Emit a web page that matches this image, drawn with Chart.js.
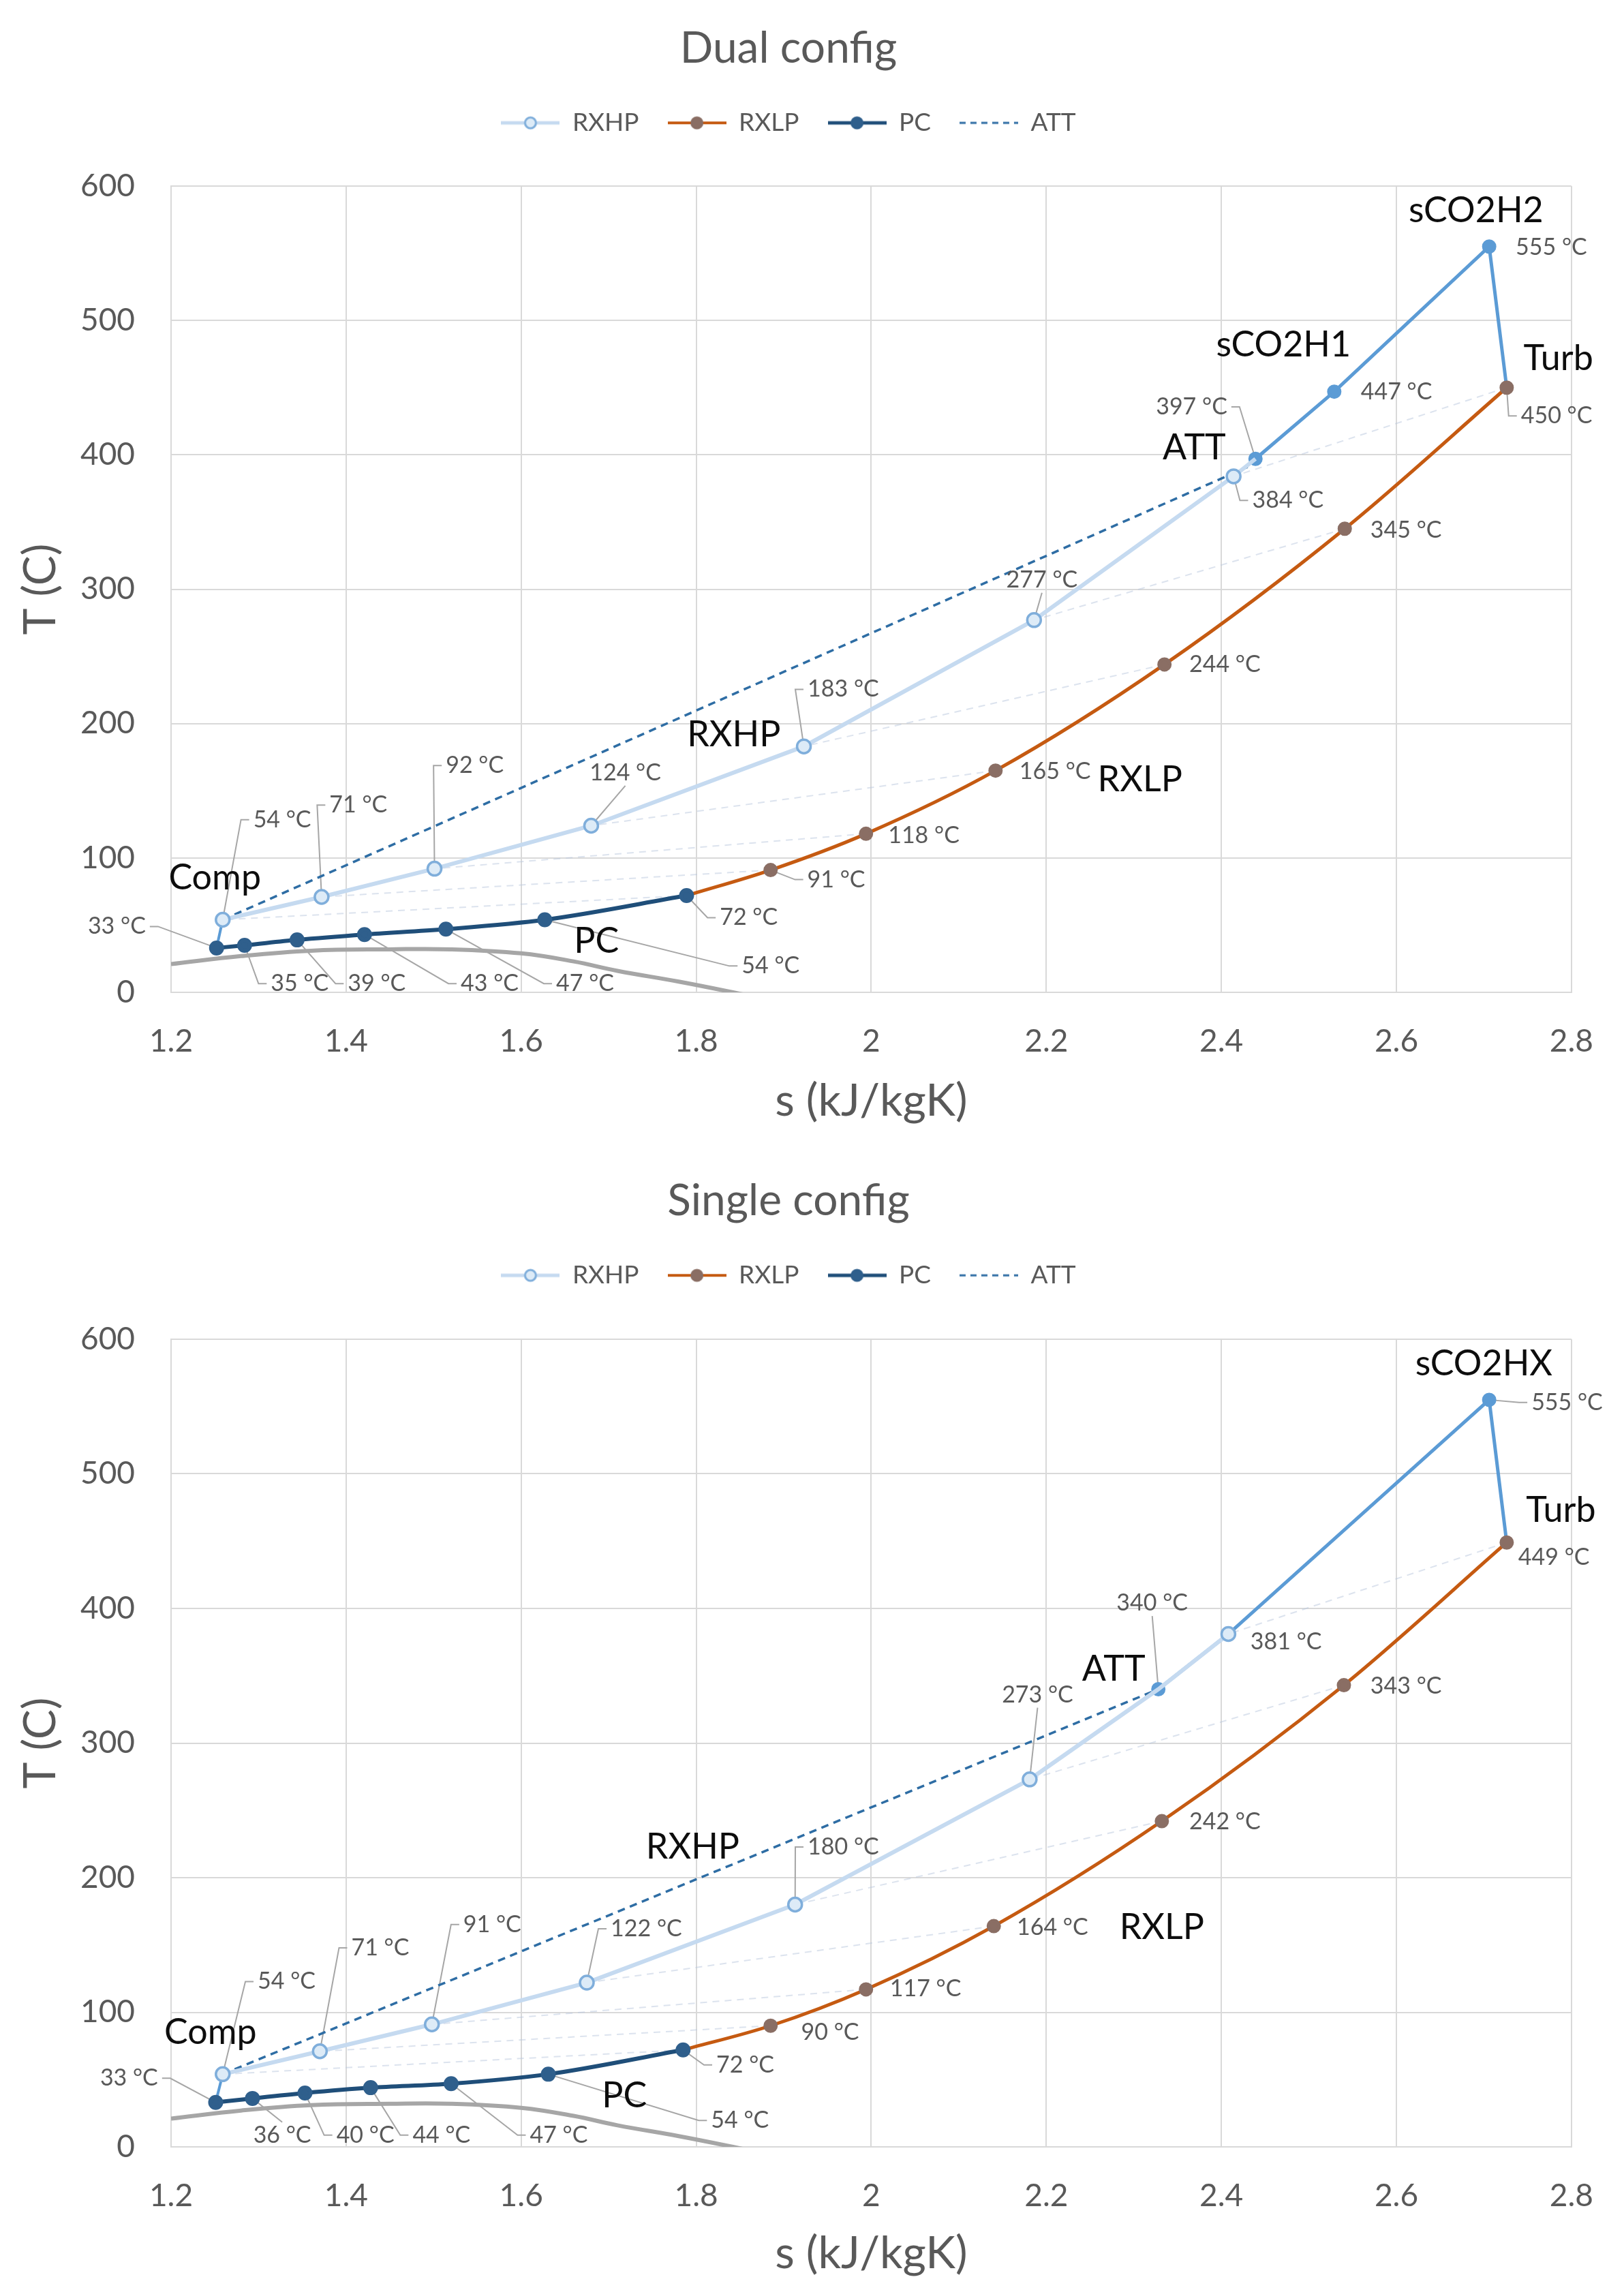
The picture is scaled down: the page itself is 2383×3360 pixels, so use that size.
<!DOCTYPE html>
<html>
<head>
<meta charset="utf-8">
<title>T-s diagrams</title>
<script src="https://cdn.jsdelivr.net/npm/chart.js@4.4.0/dist/chart.umd.min.js"></script>
<style>
  html, body { margin: 0; padding: 0; background: #fff; }
  canvas { display: block; }
</style>
</head>
<body>
<canvas id="dualChart" width="2383" height="1680"></canvas>
<canvas id="singleChart" width="2383" height="1680"></canvas>
<script>
// ---- Dual config (s in kJ/kgK, T in C) ----
const dualPcS = [1.252, 1.284, 1.344, 1.421, 1.514, 1.627, 1.789];
const dualPcT = [33, 35, 39, 43, 47, 54, 72];
const dualLpS = [1.789, 1.885, 1.994, 2.142, 2.335, 2.541, 2.726];
const dualLpT = [72, 91, 118, 165, 244, 345, 450];
const dualHpS = [1.259, 1.372, 1.501, 1.680, 1.923, 2.186, 2.414];
const dualHpT = [54, 71, 92, 124, 183, 277, 384];
const dualHeatS = [2.439, 2.529, 2.706, 2.726];
const dualHeatT = [397, 447, 555, 450];
const dualAttS = [1.259, 2.430];
const dualAttT = [54, 391];

// ---- Single config ----
const singlePcS = [1.251, 1.293, 1.353, 1.428, 1.520, 1.631, 1.785];
const singlePcT = [33, 36, 40, 44, 47, 54, 72];
const singleLpS = [1.785, 1.885, 1.994, 2.140, 2.332, 2.540, 2.726];
const singleLpT = [72, 90, 117, 164, 242, 343, 449];
const singleHpS = [1.259, 1.370, 1.498, 1.675, 1.913, 2.181, 2.408];
const singleHpT = [54, 71, 91, 122, 180, 273, 381];
const singleHeatS = [2.328, 2.408, 2.706, 2.726];
const singleHeatT = [340, 381, 555, 449];
const singleAttS = [1.259, 2.328];
const singleAttT = [54, 340];

// CO2 saturation dome
const domeS = [1.20, 1.28, 1.36, 1.45, 1.52, 1.60, 1.66, 1.71, 1.78, 1.842, 1.90];
const domeT = [21, 27, 31, 32, 32, 29, 23, 16, 8, 0, -8];

const seriesNames = ['RXHP', 'RXLP', 'PC', 'ATT'];

// label placement (s, T of the text centre) - layout only
const dualPcLbl = [[1.138, 49], [1.347, 6.5], [1.435, 6.5], [1.564, 6.5], [1.673, 6.5], [1.885, 19.6], [1.860, 55.6]];
const dualLpLbl = [null, [1.960, 83.9], [2.060, 116.6], [2.210, 164.5], [2.404, 244], [2.611, 344], [2.783, 429]];
const dualHpLbl = [[1.327, 128.5], [1.414, 139.4], [1.547, 168.8], [1.719, 163.4], [1.968, 225.5], [2.195, 307], [2.476, 366]];
const dualHeatLbl = [[2.366, 435.7], [2.600, 446.6], [2.777, 554.5], null];
const dualNames = [['Comp', 1.250, 85], ['PC', 1.686, 38], ['RXHP', 1.843, 191.7], ['RXLP', 2.307, 158],
  ['ATT', 2.369, 405], ['sCO2H1', 2.471, 481.5], ['sCO2H2', 2.691, 581.7], ['Turb', 2.785, 471.7]];

const singlePcLbl = [[1.152, 51], [1.327, 8.7], [1.422, 8.7], [1.509, 8.7], [1.643, 8.7], [1.850, 19.6], [1.856, 60.9]];
const singleLpLbl = [null, [1.953, 84.8], [2.062, 117.4], [2.207, 163], [2.404, 241.3], [2.611, 342.4], [2.780, 438]];
const singleHpLbl = [[1.332, 122.8], [1.439, 147.8], [1.567, 165.2], [1.743, 162], [1.968, 222.8], [2.190, 335.9], [2.474, 375]];
const singleHeatLbl = [[2.321, 404], null, [2.795, 553], null];
const singleNames = [['Comp', 1.245, 84.8], ['PC', 1.718, 38], ['RXHP', 1.796, 222.8], ['RXLP', 2.332, 163],
  ['ATT', 2.277, 355], ['sCO2HX', 2.700, 581.5], ['Turb', 2.788, 472.8]];

Chart.defaults.font.family = 'Lato';
Chart.defaults.color = '#595959';

function pts(s, T) {
    return s.map((v, i) => ({x: v, y: T[i]}));
}

function legendIcon(color, width, marker, dash) {
    const c = document.createElement('canvas');
    c.width = 86;
    c.height = 26;
    const g = c.getContext('2d');
    g.strokeStyle = color;
    g.lineWidth = width;
    g.setLineDash(dash || []);
    g.beginPath();
    g.moveTo(0, 13);
    g.lineTo(86, 13);
    g.stroke();
    if (marker) {
        g.setLineDash([]);
        g.beginPath();
        g.arc(43, 13, 8, 0, Math.PI * 2);
        g.fillStyle = marker[0];
        g.fill();
        g.lineWidth = 3;
        g.strokeStyle = marker[1];
        g.stroke();
    }
    return c;
}

const icons = [
    legendIcon('#C5DAF0', 5, ['#DDEBF7', '#7FAEDB']),
    legendIcon('#C55A11', 4, ['#8A6E64', '#8A6E64']),
    legendIcon('#1F4E79', 5, ['#2F5F8C', '#2F5F8C']),
    legendIcon('#2E6DA4', 3, null, [9, 7])
];

// data labels with leader lines + block names
const annotate = {
    id: 'annotate',
    beforeDatasetsDraw(chart, args, opts) {
        const {ctx, scales: {x, y}} = chart;
        ctx.save();
        ctx.font = '34px Lato';
        ctx.strokeStyle = '#A6A6A6';
        ctx.lineWidth = 2;
        (opts.groups || []).forEach(g => {
            g.s.forEach((s, i) => {
                const pos = g.pos[i];
                if (!pos) return;
                const ptx = x.getPixelForValue(s), pty = y.getPixelForValue(g.T[i]);
                const lx = x.getPixelForValue(pos[0]), ly = y.getPixelForValue(pos[1]);
                const hw = ctx.measureText(g.T[i] + ' °C').width / 2, hh = 19;
                let ax, ay, bx, by;
                if (ptx < lx - hw - 4) {
                    ax = lx - hw - 6; ay = ly; bx = ax - 12; by = ly;
                } else if (ptx > lx + hw + 4) {
                    ax = lx + hw + 6; ay = ly; bx = ax + 12; by = ly;
                } else {
                    ax = lx; ay = pty < ly ? ly - hh : ly + hh; bx = ax; by = ay;
                }
                if (Math.hypot(bx - ptx, by - pty) > 30) {
                    ctx.beginPath();
                    ctx.moveTo(ptx, pty);
                    ctx.lineTo(bx, by);
                    ctx.lineTo(ax, ay);
                    ctx.stroke();
                }
            });
        });
        ctx.restore();
    },
    afterDatasetsDraw(chart, args, opts) {
        const {ctx, scales: {x, y}} = chart;
        ctx.save();
        ctx.textAlign = 'center';
        ctx.textBaseline = 'middle';
        ctx.font = '34px Lato';
        ctx.fillStyle = '#595959';
        (opts.groups || []).forEach(g => {
            g.s.forEach((s, i) => {
                const pos = g.pos[i];
                if (!pos) return;
                ctx.fillText(g.T[i] + ' °C', x.getPixelForValue(pos[0]), y.getPixelForValue(pos[1]));
            });
        });
        ctx.font = '52px Lato';
        ctx.fillStyle = '#0D0D0D';
        (opts.names || []).forEach(n => {
            ctx.fillText(n[0], x.getPixelForValue(n[1]), y.getPixelForValue(n[2]));
        });
        ctx.restore();
    }
};

function buildChart(id, d) {
    const hpLine = pts(d.hpS, d.hpT)
        .concat([{x: d.heatS[0], y: d.heatT[0], j: true}])
        .sort((a, b) => a.x - b.x);

    const recup = d.lpS.map((s, i) => ({
        label: 'recup' + i,
        data: [{x: s, y: d.lpT[i]}, {x: d.hpS[i], y: d.hpT[i]}],
        borderColor: 'rgba(185,200,222,0.5)',
        borderWidth: 2,
        borderDash: [10, 8],
        pointRadius: 0,
        order: 8
    }));

    return new Chart(document.getElementById(id), {
        type: 'line',
        data: {
            datasets: [{
                label: seriesNames[0],
                data: hpLine,
                borderColor: '#C5DAF0',
                borderWidth: 6,
                pointRadius: c => (c.raw && c.raw.j) ? 0 : 10,
                pointBackgroundColor: '#DDEBF7',
                pointBorderColor: '#7FAEDB',
                pointBorderWidth: 3.5,
                order: 1.5
            }, {
                label: seriesNames[1],
                data: pts(d.lpS, d.lpT),
                borderColor: '#C55A11',
                borderWidth: 5,
                cubicInterpolationMode: 'monotone',
                pointRadius: c => c.dataIndex === 0 ? 0 : 8,
                pointBackgroundColor: '#8A6E64',
                pointBorderColor: '#8A6E64',
                order: 2
            }, {
                label: seriesNames[2],
                data: pts(d.pcS, d.pcT),
                borderColor: '#1F4E79',
                borderWidth: 6,
                cubicInterpolationMode: 'monotone',
                pointRadius: 8,
                pointBackgroundColor: '#2F5F8C',
                pointBorderColor: '#2F5F8C',
                order: 1
            }, {
                label: seriesNames[3],
                data: pts(d.attS, d.attT),
                borderColor: '#2E6DA4',
                borderWidth: 3.5,
                borderDash: [11, 8],
                pointRadius: 0,
                order: 4
            }, {
                label: 'heat',
                data: pts(d.heatS, d.heatT),
                borderColor: '#5B9BD5',
                borderWidth: 5,
                pointRadius: c => (c.dataIndex === 3 || d.hpS.includes(c.raw.x)) ? 0 : 8,
                pointBackgroundColor: '#5B9BD5',
                pointBorderColor: '#5B9BD5',
                order: 2
            }, {
                label: 'comp',
                data: [{x: d.pcS[0], y: d.pcT[0]}, {x: d.hpS[0], y: d.hpT[0]}],
                borderColor: '#5B9BD5',
                borderWidth: 4,
                pointRadius: 0,
                order: 2
            }, {
                label: 'dome',
                data: pts(domeS, domeT),
                borderColor: '#A6A6A6',
                borderWidth: 6,
                tension: 0.4,
                pointRadius: 0,
                order: 9
            }].concat(recup)
        },
        options: {
            responsive: false,
            devicePixelRatio: 1,
            animation: false,
            layout: {padding: {left: 0, right: 69, top: 0, bottom: 0}},
            plugins: {
                title: {
                    display: true,
                    text: d.title,
                    color: '#595959',
                    font: {size: 64, weight: 'normal'},
                    padding: {top: d.titleTop, bottom: 10}
                },
                subtitle: {
                    display: true,
                    text: '',
                    weight: 500,
                    font: {size: 1},
                    padding: {top: 0, bottom: d.spacer}
                },
                legend: {
                    labels: {
                        usePointStyle: true,
                        pointStyleWidth: 86,
                        boxHeight: 26,
                        padding: 42,
                        color: '#595959',
                        font: {size: 37},
                        generateLabels: () => seriesNames.map((name, i) => ({
                            text: name,
                            pointStyle: icons[i],
                            fontColor: '#595959',
                            hidden: false,
                            datasetIndex: i,
                            lineWidth: 0,
                            strokeStyle: 'rgba(0,0,0,0)',
                            fillStyle: 'rgba(0,0,0,0)'
                        }))
                    }
                },
                tooltip: {enabled: false},
                annotate: {groups: d.groups, names: d.names}
            },
            scales: {
                x: {
                    type: 'linear',
                    min: 1.2,
                    max: 2.8,
                    ticks: {
                        stepSize: 0.2,
                        padding: 45,
                        color: '#595959',
                        font: {size: 46},
                        callback: v => String(+v.toFixed(1))
                    },
                    grid: {color: '#D9D9D9', lineWidth: 2, drawTicks: false},
                    border: {color: '#D9D9D9', width: 2},
                    title: {
                        display: true,
                        text: 's (kJ/kgK)',
                        color: '#595959',
                        font: {size: 66},
                        padding: {top: 0, bottom: d.xTitlePad}
                    },
                    afterFit: s => { s.height = d.xAxisH; }
                },
                y: {
                    min: 0,
                    max: 600,
                    ticks: {
                        stepSize: 100,
                        padding: 53,
                        color: '#595959',
                        font: {size: 46}
                    },
                    grid: {color: '#D9D9D9', lineWidth: 2, drawTicks: false},
                    border: {color: '#D9D9D9', width: 2},
                    title: {
                        display: true,
                        text: 'T (C)',
                        color: '#595959',
                        font: {size: 66},
                        padding: {top: 20, bottom: 0}
                    },
                    afterFit: s => { s.width = 251; }
                }
            }
        },
        plugins: [annotate]
    });
}

buildChart('dualChart', {
    title: 'Dual config',
    pcS: dualPcS, pcT: dualPcT,
    lpS: dualLpS, lpT: dualLpT,
    hpS: dualHpS, hpT: dualHpT,
    heatS: dualHeatS, heatT: dualHeatT,
    attS: dualAttS, attT: dualAttT,
    groups: [
        {s: dualPcS, T: dualPcT, pos: dualPcLbl},
        {s: dualLpS, T: dualLpT, pos: dualLpLbl},
        {s: dualHpS, T: dualHpT, pos: dualHpLbl},
        {s: dualHeatS, T: dualHeatT, pos: dualHeatLbl}
    ],
    names: dualNames,
    titleTop: 33, spacer: 63, xAxisH: 224, xTitlePad: 25
});

buildChart('singleChart', {
    title: 'Single config',
    pcS: singlePcS, pcT: singlePcT,
    lpS: singleLpS, lpT: singleLpT,
    hpS: singleHpS, hpT: singleHpT,
    heatS: singleHeatS, heatT: singleHeatT,
    attS: singleAttS, attT: singleAttT,
    groups: [
        {s: singlePcS, T: singlePcT, pos: singlePcLbl},
        {s: singleLpS, T: singleLpT, pos: singleLpLbl},
        {s: singleHpS, T: singleHpT, pos: singleHpLbl},
        {s: singleHeatS, T: singleHeatT, pos: singleHeatLbl}
    ],
    names: singleNames,
    titleTop: 44, spacer: 64, xAxisH: 210, xTitlePad: 14
});
</script>
</body>
</html>
